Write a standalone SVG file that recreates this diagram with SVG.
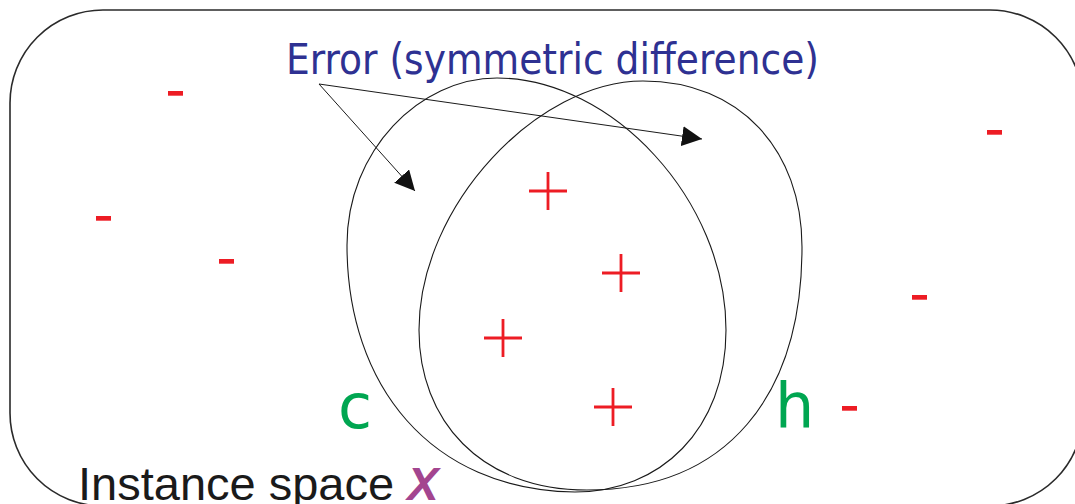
<svg xmlns="http://www.w3.org/2000/svg" width="1075" height="504" viewBox="0 0 1075 504">
<style>
.frame{fill:none;stroke:#2a2a2a;stroke-width:1.6}
.set{fill:none;stroke:#1a1a1a;stroke-width:1.1}
.minus{fill:#ed1c24}
.plus{stroke:#ed1c24;stroke-width:2.8;fill:none}
.lbl{font-family:"DejaVu Sans","Liberation Sans",sans-serif;fill:#00a651}
.conn{stroke:#1a1a1a;stroke-width:1;fill:none}
</style>
<defs>
<marker id="ah" viewBox="0 0 10 10" refX="10" refY="5" markerWidth="20" markerHeight="20" markerUnits="userSpaceOnUse" orient="auto">
<path d="M0,0 L10,5 L0,10 z" fill="#111"/>
</marker>
</defs>
<rect id="instance-space" class="frame" x="10" y="10" width="1073" height="496" rx="93" ry="93"/>
<g id="title">
<text x="286" y="74" font-family="'DejaVu Sans Condensed','DejaVu Sans',sans-serif" font-size="43" fill="#2e3192" textLength="533" lengthAdjust="spacingAndGlyphs">Error (symmetric difference)</text>
</g>
<g id="set-c">
<path class="set" d="M347,245 C347,150 420,78 497,78 C612,78 726,200 726,330 C726,430 660,492 575,492 C430,490 347,385 347,245 Z"/>
<text class="lbl" x="338" y="428" font-size="62">c</text>
</g>
<g id="set-h">
<path class="set" d="M419,330 C419,205 538,81 643,81 C740,81 802,150 802,247 C802,395 728,490 587,490 C480,490 419,420 419,330 Z"/>
<text class="lbl" x="775" y="427" font-size="62">h</text>
</g>
<g id="negatives">
<rect class="minus" x="168" y="91" width="15" height="4.7"/>
<rect class="minus" x="96" y="216" width="15" height="4.7"/>
<rect class="minus" x="219" y="259" width="15" height="4.7"/>
<rect class="minus" x="987" y="130" width="15" height="4.7"/>
<rect class="minus" x="912" y="295" width="15" height="4.7"/>
<rect class="minus" x="842" y="406" width="15" height="4.7"/>
</g>
<g id="positives">
<path class="plus" d="M548,172 V210 M529,191 H567"/>
<path class="plus" d="M621,254 V292 M602,273 H640"/>
<path class="plus" d="M503,319 V357 M484,338 H522"/>
<path class="plus" d="M613,388 V426 M594,407 H632"/>
</g>
<g id="instance-label">
<text x="78" y="500" font-family="'Liberation Sans',Arial,sans-serif" font-size="47" fill="#1a1a1a">Instance space <tspan font-weight="bold" font-style="italic" fill="#a3458f">X</tspan></text>
</g>
<g id="connectors">
<line class="conn" x1="319" y1="84" x2="415" y2="191" marker-end="url(#ah)"/>
<line class="conn" x1="319" y1="84" x2="702" y2="139" marker-end="url(#ah)"/>
</g>
</svg>
